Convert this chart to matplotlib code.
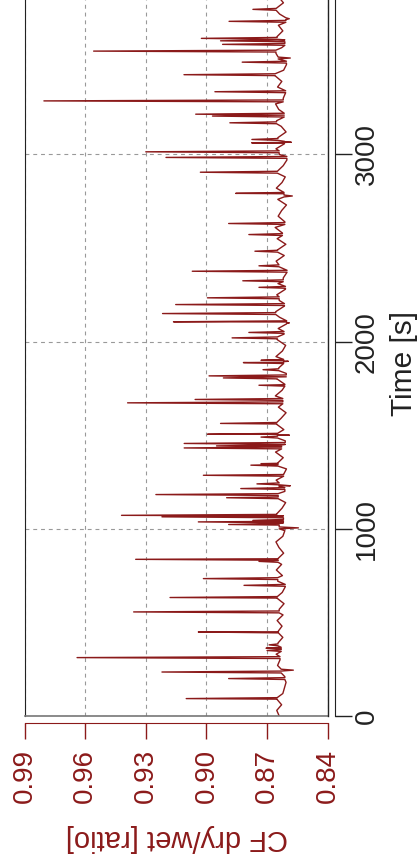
from matplotlib import pyplot as plt
import numpy as np

plt.rcParams['font.family'] = ['Liberation Sans', 'DejaVu Sans']

# --- data -----------------------------------------------------------------------------------------
# baseline CF dry/wet, one reading every 30 s starting at 0 s
base_step = 30
base_cf = [
    0.8640, 0.8652, 0.8628, 0.8650, 0.8622, 0.8614, 0.8606, 0.8612, 0.8630, 0.8648,
    0.8636, 0.8655, 0.8630, 0.8646, 0.8622, 0.8644, 0.8626, 0.8650, 0.8621, 0.8640,
    0.8616, 0.8649, 0.8625, 0.8610, 0.8647, 0.8624, 0.8654, 0.8628, 0.8645, 0.8618,
    0.8641, 0.8656, 0.8622, 0.8612, 0.8640, 0.8619, 0.8652, 0.8626, 0.8608, 0.8645,
    0.8612, 0.8640, 0.8655, 0.8618, 0.8604, 0.8646, 0.8620, 0.8658, 0.8628, 0.8610,
    0.8648, 0.8617, 0.8652, 0.8631, 0.8606, 0.8644, 0.8622, 0.8659, 0.8626, 0.8612,
    0.8650, 0.8605, 0.8642, 0.8618, 0.8656, 0.8624, 0.8608, 0.8649, 0.8616, 0.8645,
    0.8603, 0.8638, 0.8657, 0.8614, 0.8640, 0.8652, 0.8609, 0.8646, 0.8620, 0.8601,
    0.8641, 0.8655, 0.8615, 0.8648, 0.8607, 0.8650, 0.8624, 0.8660, 0.8612, 0.8645,
    0.8628, 0.8604, 0.8647, 0.8616, 0.8654, 0.8626, 0.8610, 0.8649, 0.8620, 0.8602,
    0.8640, 0.8656, 0.8614, 0.8646, 0.8606, 0.8630, 0.8653, 0.8615, 0.8642, 0.8658,
    0.8620, 0.8608, 0.8648, 0.8627, 0.8660, 0.8618, 0.8604, 0.8645, 0.8656, 0.8628,
    0.8612, 0.8650, 0.8622, 0.8644, 0.8607, 0.8638, 0.8655, 0.8619, 0.8642,
]

# short excursions away from the baseline: time [s] and CF at the tip
spike_t = [
    93, 200, 235, 245, 312, 350, 362, 380, 449, 556,
    633, 698, 734, 826, 837, 1005, 1023, 1037, 1045, 1064,
    1072, 1166, 1183, 1215, 1230, 1240, 1286, 1340, 1348, 1432,
    1443, 1456, 1490, 1500, 1505, 1563, 1673, 1691, 1767, 1806,
    1817, 1850, 1888, 1895, 1900, 2020, 2049, 2100, 2106, 2150,
    2198, 2234, 2290, 2325, 2376, 2405, 2483, 2572, 2631, 2778,
    2792, 2905, 2984, 3014, 3062, 3065, 3080, 3169, 3205, 3215,
    3286, 3335, 3426, 3493, 3515, 3552, 3588, 3607, 3620, 3711,
    3725, 3775,
]
spike_cf = [
    0.9100, 0.8890, 0.9220, 0.8570, 0.9640, 0.8700, 0.8705, 0.8690, 0.9040, 0.9360,
    0.9180, 0.8814, 0.9015, 0.8740, 0.9350, 0.8545, 0.8890, 0.9040, 0.8770, 0.9220,
    0.9420, 0.8900, 0.9250, 0.8830, 0.8585, 0.8750, 0.9015, 0.8780, 0.8730, 0.9110,
    0.8950, 0.9110, 0.8730, 0.8590, 0.8995, 0.8930, 0.9390, 0.9056, 0.8740, 0.8916,
    0.8987, 0.8720, 0.8817, 0.8595, 0.8730, 0.8873, 0.8790, 0.8590, 0.9163, 0.9217,
    0.9152, 0.8995, 0.8740, 0.8820, 0.9070, 0.8740, 0.8760, 0.8790, 0.8890, 0.8575,
    0.8855, 0.9030, 0.9200, 0.9300, 0.8776, 0.8580, 0.8775, 0.8884, 0.8970, 0.9053,
    0.9804, 0.8958, 0.9111, 0.8823, 0.8585, 0.9558, 0.8920, 0.8930, 0.9025, 0.8888,
    0.8590, 0.8770,
]

cf_ticks = [0.99, 0.96, 0.93, 0.90, 0.87, 0.84]
time_ticks = [0, 1000, 2000, 3000]

# --- build the series -----------------------------------------------------------------------------
t = list(np.arange(len(base_cf)) * base_step)
cf = list(base_cf)
for ts, pk in zip(spike_t, spike_cf):
    foot = base_cf[int(round(ts / base_step))]
    t += [ts - 5, ts, ts + 5]
    cf += [foot, pk, foot]
order = np.argsort(t, kind='stable')
t = np.array(t, dtype=float)[order]
cf = np.array(cf)[order]

# --- plot -----------------------------------------------------------------------------------------
RED = '#8B1A1A'
W, H = 419, 864
left, right, bottom = 24.5, 327.7, 716

fig = plt.figure(figsize=(W / 100, H / 100), dpi=100)
ax = fig.add_axes([left / W, (H - bottom) / H, (right - left) / W, bottom / H])

ax.plot(cf, t, color=RED, linewidth=1.0, zorder=3)

ax.set_xlim(0.99, 0.84)
ax.set_ylim(0, 3825)
ax.set_xticks(cf_ticks)
ax.set_xticklabels(['%.2f' % v for v in cf_ticks])
ax.set_yticks(time_ticks)
ax.yaxis.tick_right()

ax.set_axisbelow(True)
ax.grid(True, color='#999999', linewidth=0.8, linestyle=(0, (3.5, 3.5)))

ax.spines['top'].set_visible(False)
ax.spines['left'].set_color('#222222')
ax.spines['bottom'].set_position(('outward', 5))
ax.spines['bottom'].set_color(RED)
ax.spines['right'].set_position(('outward', 5))
ax.spines['right'].set_color('#222222')
# the plot box (bottom and right edges), detached from the axis lines
ax.plot([0, 1], [0, 0], transform=ax.transAxes, color='#777777', lw=1.2, clip_on=False, zorder=4)
ax.plot([1, 1], [0, 1], transform=ax.transAxes, color='#222222', lw=1.0, clip_on=False, zorder=4)

ax.tick_params(axis='x', direction='out', length=11.5, width=1, color=RED,
               labelcolor=RED, labelsize=20, labelrotation=90, pad=7)
ax.tick_params(axis='y', direction='out', length=12, width=1, color='#222222',
               labelcolor='#222222', labelsize=20, labelrotation=90, pad=1.5)
plt.setp(ax.get_yticklabels(), va='center')

fig.text(176.7 / W, 1 - 837.5 / H, 'CF dry/wet [ratio]', rotation=180, ha='center',
         va='center', color=RED, fontsize=21)
fig.text(404 / W, 1 - 363.3 / H, 'Time [s]', rotation=90, ha='center', va='center',
         color='#222222', fontsize=21.5)

fig.savefig('out.png', dpi=100)
